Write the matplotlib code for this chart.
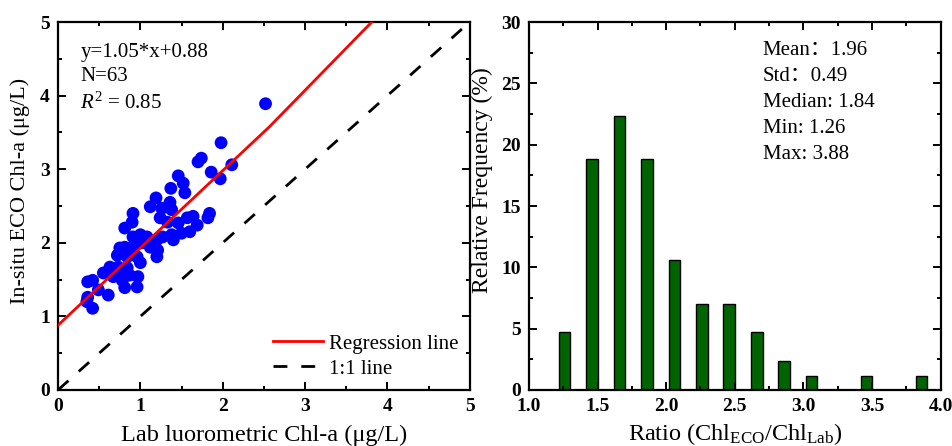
import matplotlib
matplotlib.use("Agg")
import matplotlib.pyplot as plt
from matplotlib.ticker import MultipleLocator

plt.rcParams['font.family'] = ['Liberation Serif', 'Noto Sans CJK SC', 'DejaVu Sans']
plt.rcParams['mathtext.fontset'] = 'custom'
plt.rcParams['mathtext.rm'] = 'Liberation Serif'
plt.rcParams['mathtext.it'] = 'Liberation Serif:italic'

# scatter: lab vs in-situ ECO Chl-a (ug/L)
lab_chl = [2.52, 1.98, 1.74, 1.70, 2.11, 1.86, 1.97, 1.46, 1.52, 1.37,
           1.54, 1.19, 1.12, 1.36, 1.26, 1.38, 0.91, 0.90, 0.81, 1.24,
           1.33, 1.46, 1.57, 1.64, 1.84, 1.82, 1.69, 1.60, 1.50, 1.38,
           1.40, 1.27, 1.20, 1.08, 1.00, 0.91, 1.02, 1.12, 0.91, 0.81,
           0.75, 0.72, 0.84, 0.96, 1.20, 1.21, 1.00, 0.84, 0.73, 0.63,
           0.55, 0.42, 0.36, 0.49, 0.61, 0.36, 0.35, 0.42, 0.81, 0.96,
           0.97, 0.87, 0.78, 0.79, 0.67]
eco_chl = [3.89, 3.36, 3.15, 3.10, 3.06, 2.96, 2.87, 2.91, 2.81, 2.74,
           2.68, 2.61, 2.49, 2.55, 2.47, 2.45, 2.40, 2.28, 2.20, 2.34,
           2.28, 2.27, 2.34, 2.36, 2.40, 2.34, 2.24, 2.15, 2.13, 2.11,
           2.04, 2.08, 2.04, 2.08, 2.11, 2.08, 2.00, 1.94, 1.94, 1.94,
           1.93, 1.83, 1.81, 1.81, 1.81, 1.90, 1.73, 1.66, 1.67, 1.67,
           1.59, 1.49, 1.47, 1.36, 1.29, 1.26, 1.20, 1.11, 1.39, 1.40,
           1.54, 1.56, 1.49, 1.60, 1.54]

# regression line as drawn in the figure
reg_x = [0.0, 2.57, 3.81]
reg_y = [0.88, 3.58, 5.0]
one_x = [0, 5]
one_y = [0, 5]

# histogram of ratio ECO/Lab
ratio_bins = [1.26, 1.46, 1.66, 1.86, 2.06, 2.26, 2.46, 2.66, 2.86, 3.06, 3.46, 3.86]
ratio_freq = [4.7, 18.8, 22.35, 18.8, 10.6, 7.05, 7.05, 4.7, 2.35, 1.18, 1.18, 1.18]

stats_lines = ["Mean：1.96", "Std：0.49", "Median: 1.84", "Min: 1.26", "Max: 3.88"]


def style_axes(ax):
    for sp in ax.spines.values():
        sp.set_linewidth(1.6)
    ax.tick_params(which='both', direction='in', top=True, right=True, width=1.4)
    ax.tick_params(which='major', length=6)
    ax.tick_params(which='minor', length=3)
    ax.tick_params(axis='x', pad=6)
    ax.tick_params(axis='y', pad=6)
    for lab in ax.get_xticklabels() + ax.get_yticklabels():
        lab.set_fontweight('bold')
        lab.set_fontsize(14)


fig = plt.figure(figsize=(9.53, 4.46), dpi=100)
ax1 = fig.add_axes([0.0609, 0.1256, 0.432, 0.825])
ax2 = fig.add_axes([0.555, 0.1256, 0.432, 0.825])

# left panel
ax1.scatter(lab_chl, eco_chl, s=85, color='#0000ff', edgecolors='none', zorder=3)
ax1.plot(reg_x, reg_y, color='#ff0000', lw=2, label='Regression line', zorder=4)
ax1.plot(one_x, one_y, color='black', lw=2, ls=(0, (5, 5)), label='1:1 line')
ax1.set_xlim(0, 5)
ax1.set_ylim(0, 5)
ax1.xaxis.set_major_locator(MultipleLocator(1))
ax1.xaxis.set_minor_locator(MultipleLocator(0.5))
ax1.yaxis.set_major_locator(MultipleLocator(1))
ax1.yaxis.set_minor_locator(MultipleLocator(0.5))
style_axes(ax1)
ax1.set_xlabel('Lab luorometric Chl-a (μg/L)', fontsize=17.5, labelpad=7)
ax1.set_ylabel('In-situ ECO Chl-a (μg/L)', fontsize=16)
ax1.yaxis.set_label_coords(-0.068, 0.54)
ax1.text(0.27, 4.59, 'y=1.05*x+0.88', fontsize=15, va='center')
ax1.text(0.27, 4.26, 'N=63', fontsize=15, va='center')
ax1.text(0.27, 3.90, '$R^2$ = 0.85', fontsize=15, va='center')
ax1.legend(loc='lower right', frameon=False, fontsize=15, handlelength=2.4,
           borderaxespad=0.15, labelspacing=0.25, handletextpad=0.3)

# right panel
ax2.bar(ratio_bins, ratio_freq, width=0.085, color='#006400', edgecolor='black', lw=1)
ax2.set_xlim(1.0, 4.0)
ax2.set_ylim(0, 30)
ax2.xaxis.set_major_locator(MultipleLocator(0.5))
ax2.xaxis.set_minor_locator(MultipleLocator(0.25))
ax2.yaxis.set_major_locator(MultipleLocator(5))
ax2.yaxis.set_minor_locator(MultipleLocator(2.5))
ax2.xaxis.set_major_formatter(plt.FormatStrFormatter('%.1f'))
style_axes(ax2)
ax2.set_xlabel('Ratio (Chl$_{\\mathregular{ECO}}$/Chl$_{\\mathregular{Lab}}$)', fontsize=17.5, labelpad=4)
ax2.set_ylabel('Relative Frequency (%)', fontsize=17)
ax2.yaxis.set_label_coords(-0.087, 0.57)
for i, line in enumerate(stats_lines):
    ax2.text(0.568, 0.924 - i * 0.0707, line, fontsize=15, va='center',
             transform=ax2.transAxes)

fig.savefig('out.png', dpi=100)
